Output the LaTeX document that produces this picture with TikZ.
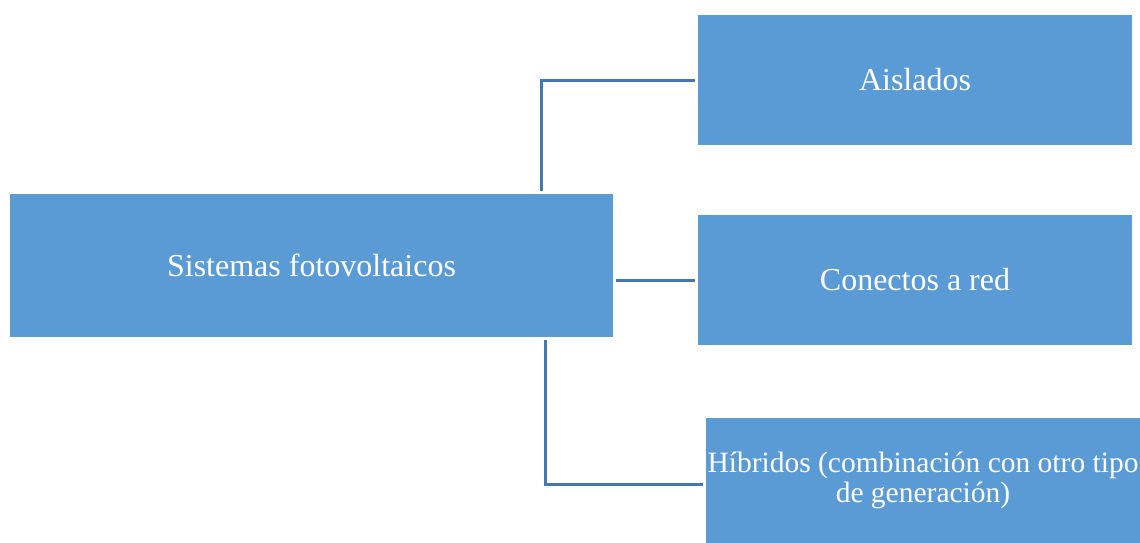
\documentclass[tikz,border=0pt]{standalone}
\usepackage{fontspec}
\setmainfont{Liberation Serif}
\definecolor{boxfill}{HTML}{5B9BD5}
\definecolor{linecol}{HTML}{4677AE}
\begin{document}
\begin{tikzpicture}[x=1pt,y=-1pt,
  box/.style={rectangle, fill=boxfill, draw=none, text=white, inner sep=0pt, align=center,
    font=\fontsize{32}{38}\selectfont},
  conn/.style={draw=linecol, line width=3pt, line join=miter}]
\useasboundingbox (0,0) rectangle (1140,543);
\node[box, minimum width=603, minimum height=143] (main) at (311.5,265.5) {Sistemas fotovoltaicos};
\node[box, minimum width=434, minimum height=130] (ais) at (915,80) {Aislados};
\node[box, minimum width=434, minimum height=130] (con) at (915,280) {Conectos a red};
\node[box, minimum width=434, minimum height=125,
  font=\fontsize{29.5}{30.5}\selectfont] (hib) at (923,480.5) {Híbridos (combinación con otro tipo\\de generación)};
\coordinate (ca) at (541,0);
\coordinate (cc) at (545,0);
\coordinate (ch) at (0,484);
\draw[conn, shorten <=3pt, shorten >=3pt] (main.north -| ca) |- (ais.west);
\draw[conn, shorten <=3pt, shorten >=3pt] (main.east |- con.west) -- (con.west);
\draw[conn, shorten <=3pt, shorten >=3pt] (main.south -| cc) |- (hib.west |- ch);
\end{tikzpicture}
\end{document}
